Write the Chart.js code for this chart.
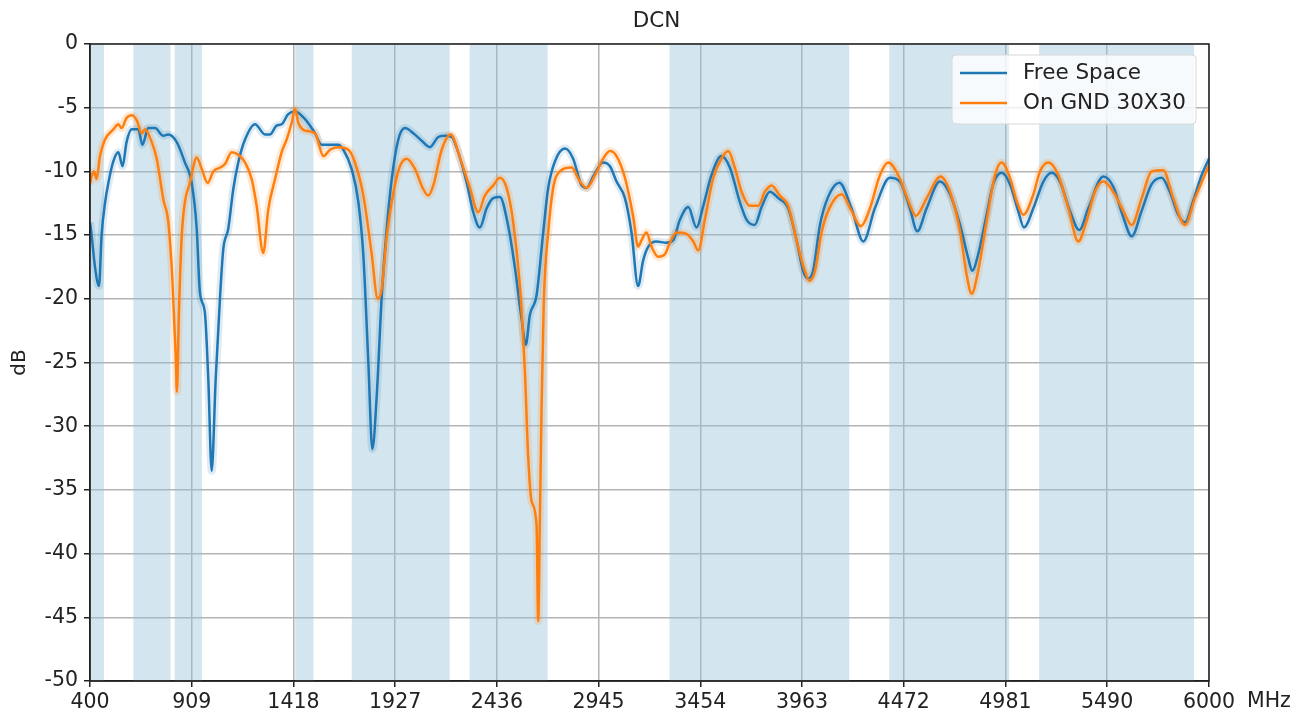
<!DOCTYPE html>
<html>
<head>
<meta charset="utf-8">
<title>DCN</title>
<script src="https://cdn.jsdelivr.net/npm/chart.js@4.4.0/dist/chart.umd.min.js"></script>
<style>
  body { margin: 0; background: #fff; }
</style>
</head>
<body>
<canvas id="chart" width="1305" height="720"></canvas>
<script>
// Free Space trace (MHz / dB)
const fsFreq = [400, 408, 425, 445, 458, 475, 492, 517, 542, 563, 583, 609, 642, 662, 692, 725, 767, 792, 834, 875,
  909, 934, 950, 975, 992, 1009, 1029, 1051, 1067, 1092, 1117, 1142, 1176, 1226, 1276, 1301, 1334, 1359, 1392, 1426,
  1476, 1526, 1559, 1601, 1643, 1668, 1709, 1743, 1768, 1793, 1813, 1835, 1860, 1885, 1910, 1943, 1976, 2018, 2060, 2101,
  2143, 2176, 2210, 2234, 2284, 2318, 2351, 2385, 2418, 2451, 2493, 2526, 2560, 2581, 2601, 2635, 2668, 2693, 2727, 2777,
  2818, 2860, 2885, 2918, 2968, 3002, 3035, 3077, 3110, 3143, 3168, 3194, 3235, 3285, 3319, 3352, 3394, 3435, 3469, 3510,
  3560, 3602, 3652, 3686, 3727, 3761, 3802, 3844, 3894, 3936, 3969, 3994, 4019, 4053, 4094, 4150, 4211, 4270, 4328, 4403,
  4453, 4503, 4540, 4587, 4653, 4704, 4754, 4795, 4815, 4845, 4887, 4920, 4962, 5004, 5045, 5074, 5121, 5171, 5212, 5254,
  5304, 5351, 5396, 5471, 5521, 5571, 5613, 5663, 5713, 5763, 5804, 5846, 5880, 5921, 5963, 6000];
const fsDb = [-14.0, -15.0, -17.5, -19.0, -15.0, -12.5, -10.9, -9.2, -8.5, -9.6, -7.7, -6.7, -6.7, -7.9, -6.6, -6.6, -7.2, -7.1, -7.7, -9.3,
  -10.9, -14.5, -19.5, -21.1, -26.3, -33.5, -26.3, -19.8, -16.1, -14.5, -11.4, -9.3, -7.5, -6.3, -7.1, -7.1, -6.4, -6.3, -5.5, -5.3,
  -5.9, -7.0, -7.9, -7.9, -7.9, -8.3, -9.8, -12.4, -16.6, -25.0, -31.8, -27.6, -19.8, -14.5, -10.6, -7.5, -6.6, -7.0, -7.6, -8.1,
  -7.3, -7.2, -7.3, -8.1, -10.8, -13.2, -14.4, -12.9, -12.1, -12.0, -14.3, -17.5, -21.6, -23.6, -21.3, -19.7, -14.8, -11.3, -9.2, -8.2,
  -9.0, -11.1, -11.3, -10.4, -9.3, -9.6, -10.8, -12.1, -14.8, -19.0, -17.0, -15.9, -15.5, -15.6, -15.4, -13.8, -12.8, -14.4, -12.7, -10.3,
  -8.8, -9.7, -12.4, -13.8, -14.2, -12.8, -11.6, -12.1, -12.9, -15.4, -17.8, -18.4, -17.8, -14.2, -12.0, -10.9, -12.9, -15.5, -12.9, -10.5,
  -10.8, -12.9, -14.7, -12.9, -10.8, -11.8, -14.2, -16.8, -17.8, -16.5, -13.4, -11.0, -10.1, -11.0, -13.1, -14.4, -12.9, -10.8, -10.1, -10.8,
  -13.1, -14.6, -12.9, -10.4, -11.2, -13.6, -15.1, -13.1, -11.0, -10.5, -11.6, -13.4, -14.0, -12.3, -10.3, -9.0];

// On GND 30X30 trace (MHz / dB)
const gndFreq = [400, 408, 420, 433, 450, 475, 517, 542, 558, 583, 609, 634, 659, 675, 709, 734, 767, 792, 812, 829,
  835, 845, 859, 875, 900, 934, 959, 989, 1017, 1051, 1076, 1109, 1142, 1176, 1209, 1234, 1267, 1292, 1326, 1359,
  1384, 1409, 1426, 1443, 1476, 1526, 1568, 1601, 1643, 1693, 1726, 1768, 1809, 1840, 1860, 1885, 1918, 1951, 1985, 2026,
  2068, 2093, 2118, 2160, 2205, 2251, 2301, 2343, 2376, 2418, 2451, 2485, 2518, 2551, 2576, 2593, 2610, 2635, 2643, 2651,
  2660, 2671, 2693, 2718, 2751, 2810, 2852, 2885, 2927, 2968, 3002, 3035, 3077, 3118, 3143, 3160, 3185, 3210, 3244, 3277,
  3302, 3335, 3385, 3419, 3444, 3477, 3519, 3560, 3594, 3627, 3661, 3702, 3744, 3777, 3811, 3852, 3894, 3936, 3977, 4002,
  4028, 4061, 4100, 4161, 4211, 4257, 4303, 4353, 4395, 4445, 4495, 4533, 4587, 4657, 4704, 4754, 4787, 4812, 4845, 4887,
  4929, 4962, 5004, 5037, 5071, 5121, 5154, 5196, 5246, 5296, 5346, 5387, 5429, 5471, 5521, 5571, 5613, 5663, 5713, 5771,
  5821, 5880, 5930, 6000];
const gndDb = [-11.0, -10.4, -10.0, -10.6, -8.8, -7.5, -6.7, -6.3, -6.6, -5.8, -5.6, -6.0, -7.0, -6.7, -7.7, -9.0, -12.2, -14.0, -18.4, -24.5,
  -27.3, -21.1, -15.1, -12.4, -10.9, -8.9, -9.8, -10.9, -10.0, -9.7, -9.4, -8.5, -8.7, -9.3, -10.6, -12.7, -16.4, -13.0, -10.6, -8.5,
  -7.5, -6.2, -5.1, -6.2, -6.8, -7.0, -8.8, -8.3, -8.1, -8.3, -9.3, -11.9, -16.4, -20.0, -19.2, -15.1, -11.7, -9.6, -9.0, -9.8,
  -11.4, -11.9, -11.1, -8.3, -7.1, -8.9, -11.3, -13.2, -11.9, -11.1, -10.5, -11.3, -14.0, -18.9, -25.6, -32.4, -35.9, -37.8, -45.3, -37.8,
  -28.4, -20.2, -14.8, -11.3, -10.0, -9.7, -10.8, -11.3, -10.3, -9.0, -8.4, -8.8, -10.5, -13.5, -15.9, -15.4, -14.8, -15.9, -16.7, -16.5,
  -15.6, -14.8, -14.9, -15.5, -16.2, -13.8, -10.5, -9.0, -8.4, -9.7, -11.6, -12.7, -12.7, -11.6, -11.1, -11.9, -12.7, -15.4, -17.8, -18.6,
  -17.8, -14.8, -12.9, -11.8, -13.1, -14.3, -12.9, -10.3, -9.3, -10.3, -12.3, -13.5, -12.1, -10.4, -11.6, -14.7, -18.1, -19.6, -17.8, -13.9,
  -10.3, -9.3, -10.5, -12.3, -13.4, -11.8, -10.0, -9.3, -10.3, -12.9, -15.5, -13.9, -11.6, -10.8, -11.6, -13.1, -14.2, -12.1, -10.0, -9.9,
  -12.1, -14.2, -12.1, -9.5];

// shaded frequency bands (MHz)
const bandStart = [400, 617, 824, 1427, 1710, 2300, 3300, 4400, 5150];
const bandEnd = [470, 803, 960, 1518, 2200, 2690, 4200, 5000, 5925];

const xTicks = [400, 909, 1418, 1927, 2436, 2945, 3454, 3963, 4472, 4981, 5490, 6000];
const seriesNames = ["Free Space", "On GND 30X30"];
const seriesColors = ["#1f77b4", "#ff7f0e"];

const FONT = "DejaVu Sans";
const toPoints = (xs, ys) => xs.map((f, i) => ({ x: f, y: ys[i] }));

const bandsPlugin = {
  id: "bands",
  beforeDatasetsDraw(chart) {
    const { ctx, chartArea, scales: { x } } = chart;
    ctx.save();
    ctx.fillStyle = "rgba(150, 195, 218, 0.42)";
    bandStart.forEach((s, i) => {
      const x0 = x.getPixelForValue(s);
      const x1 = x.getPixelForValue(bandEnd[i]);
      ctx.fillRect(x0, chartArea.top, x1 - x0, chartArea.bottom - chartArea.top);
    });
    ctx.restore();
  }
};

const framePlugin = {
  id: "frame",
  afterDraw(chart) {
    const { ctx, chartArea: a } = chart;
    ctx.save();
    ctx.strokeStyle = "#222";
    ctx.lineWidth = 1.5;
    ctx.strokeRect(a.left, a.top, a.right - a.left, a.bottom - a.top);

    ctx.fillStyle = "#222";
    ctx.textBaseline = "middle";

    // title over the axes
    ctx.font = "21.5px '" + FONT + "'";
    ctx.textAlign = "center";
    ctx.fillText("DCN", (a.left + a.right) / 2 + 7, 21);

    // unit after last tick label
    ctx.font = "20.5px '" + FONT + "'";
    ctx.textAlign = "left";
    ctx.fillText("MHz", a.right + 38, 702);

    // legend box
    const lx = 952, ly = 55, lw = 244, lh = 69;
    ctx.beginPath();
    ctx.roundRect(lx, ly, lw, lh, 4);
    ctx.fillStyle = "rgba(255,255,255,0.8)";
    ctx.fill();
    ctx.strokeStyle = "#d8d8d8";
    ctx.lineWidth = 1;
    ctx.stroke();
    ctx.font = "21.5px '" + FONT + "'";
    seriesNames.forEach((name, i) => {
      const y = 73 + i * 30;
      ctx.strokeStyle = seriesColors[i];
      ctx.lineWidth = 2.5;
      ctx.beginPath();
      ctx.moveTo(960, y);
      ctx.lineTo(1007, y);
      ctx.stroke();
      ctx.fillStyle = "#222";
      ctx.fillText(name, 1023, y);
    });
    ctx.restore();
  }
};

new Chart(document.getElementById("chart"), {
  type: "line",
  data: {
    datasets: [
      {
        label: seriesNames[1],
        data: toPoints(gndFreq, gndDb),
        borderColor: seriesColors[1],
        borderWidth: 2.5,
        order: 0
      },
      {
        label: seriesNames[0],
        data: toPoints(fsFreq, fsDb),
        borderColor: seriesColors[0],
        borderWidth: 2.5,
        order: 1
      },
      {
        label: "gnd-halo",
        data: toPoints(gndFreq, gndDb),
        borderColor: "rgba(255,127,14,0.18)",
        borderWidth: 8,
        order: 2
      },
      {
        label: "fs-halo",
        data: toPoints(fsFreq, fsDb),
        borderColor: "rgba(31,119,180,0.15)",
        borderWidth: 8,
        order: 3
      }
    ]
  },
  options: {
    responsive: false,
    animation: false,
    cubicInterpolationMode: "monotone",
    elements: { point: { radius: 0 }, line: { fill: false } },
    layout: { padding: { top: 44, right: 96, bottom: 0, left: 0 } },
    plugins: {
      legend: { display: false },
      tooltip: { enabled: false },
      title: { display: false }
    },
    scales: {
      x: {
        type: "linear",
        min: 400,
        max: 6000,
        afterBuildTicks: (scale) => { scale.ticks = xTicks.map(v => ({ value: v })); },
        afterFit: (scale) => { scale.height = 39; },
        ticks: {
          color: "#222",
          font: { family: FONT, size: 20.5 },
          padding: 3,
          maxRotation: 0,
          autoSkip: false,
          callback: (v) => String(v)
        },
        grid: { color: "#b4b4b4", lineWidth: 1.5, tickLength: 6, tickColor: "#222" },
        border: { color: "#222", width: 1.5 }
      },
      y: {
        min: -50,
        max: 0,
        afterFit: (scale) => { scale.width = 90; },
        ticks: {
          stepSize: 5,
          color: "#222",
          font: { family: FONT, size: 20.5 },
          padding: 6
        },
        grid: { color: "#b4b4b4", lineWidth: 1.5, tickLength: 6, tickColor: "#222" },
        border: { color: "#222", width: 1.5 },
        title: {
          display: true,
          text: "dB",
          color: "#222",
          font: { family: FONT, size: 20 },
          padding: { top: 8, bottom: 0 }
        }
      }
    }
  },
  plugins: [bandsPlugin, framePlugin]
});
</script>
</body>
</html>
